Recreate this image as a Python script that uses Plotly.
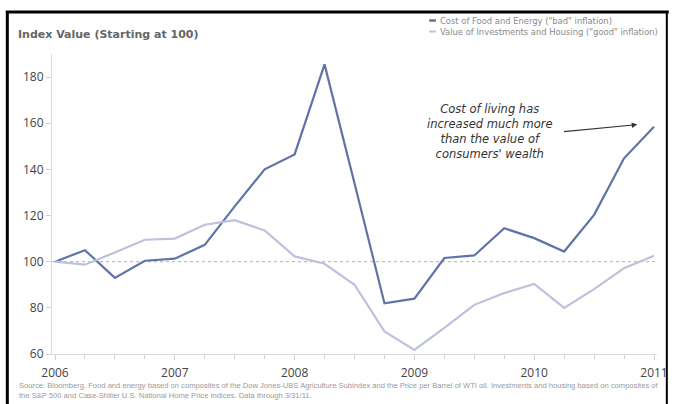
import plotly.graph_objects as go

# ---- data (quarterly, 2006 Q1 .. 2011 Q1) ----
quarters = [2006 + 0.25 * i for i in range(21)]
food_energy = [100, 105, 93, 100.4, 101.3, 107.3, 124, 140, 146.5, 185.5, 134,
               82, 84, 101.6, 102.7, 114.5, 110.2, 104.4, 120.3, 144.8, 158.5]
invest_housing = [100, 98.7, 104, 109.5, 110, 116, 118, 113.5, 102.3, 99.1, 90,
                  69.8, 61.8, 71.3, 81.3, 86.4, 90.4, 80, 88.1, 97.2, 102.6]
year_ticks = [2006, 2007, 2008, 2009, 2010, 2011]
y_ticks = [60, 80, 100, 120, 140, 160, 180]

series_names = ['Cost of Food and Energy ("bad" inflation)',
                'Value of Investments and Housing ("good" inflation)']
dark = "#5f74a6"
light = "#bcc2de"

fig = go.Figure()
fig.add_trace(go.Scatter(x=quarters, y=food_energy, mode="lines", name=series_names[0],
                         line=dict(color=dark, width=2.2)))
fig.add_trace(go.Scatter(x=quarters, y=invest_housing, mode="lines", name=series_names[1],
                         line=dict(color=light, width=2.2)))

L, R, T, B = 52, 12, 54, 50
W, H = 680, 404
pw, ph = W - L - R, H - T - B


def px(xpix):
    return (xpix - L) / pw


def py(ypix):
    return (H - B - ypix) / ph


shapes = [
    # dotted reference line at 100
    dict(type="line", xref="paper", yref="y", x0=0, x1=1, y0=100, y1=100,
         line=dict(color="#b0b0b0", width=1, dash="dot"), layer="below"),
    # frame
    dict(type="line", xref="paper", yref="paper", x0=px(5), x1=px(680), y0=py(12), y1=py(12),
         line=dict(color="#000", width=3)),
    dict(type="line", xref="paper", yref="paper", x0=px(6.5), x1=px(6.5), y0=py(11), y1=py(404),
         line=dict(color="#000", width=3)),
    dict(type="line", xref="paper", yref="paper", x0=px(678), x1=px(678), y0=py(11), y1=py(404),
         line=dict(color="#000", width=2)),
    # legend swatches
    dict(type="line", xref="paper", yref="paper", x0=px(436), x1=px(443), y0=py(20.5), y1=py(20.5),
         line=dict(color=dark, width=2.5)),
    dict(type="line", xref="paper", yref="paper", x0=px(436), x1=px(443), y0=py(31.5), y1=py(31.5),
         line=dict(color=light, width=2)),
]

annotations = [
    dict(text="<b>Index Value (Starting at 100)</b>", xref="paper", yref="paper",
         x=px(15), y=py(34), xanchor="left", yanchor="middle", showarrow=False,
         font=dict(family="DejaVu Sans", size=11, color="#666")),
    dict(text=series_names[0], xref="paper", yref="paper",
         x=px(445), y=py(20.5), xanchor="left", yanchor="middle", showarrow=False,
         font=dict(family="DejaVu Sans", size=8.4, color="#8a8a8a")),
    dict(text=series_names[1], xref="paper", yref="paper",
         x=px(445), y=py(31.5), xanchor="left", yanchor="middle", showarrow=False,
         font=dict(family="DejaVu Sans", size=8.4, color="#8a8a8a")),
    dict(text="<i>Cost of living has<br>increased much more<br>than the value of<br>consumers' wealth</i>",
         xref="x", yref="y", x=2009.623, y=156.5, showarrow=False, align="center",
         font=dict(family="DejaVu Sans", size=11.5, color="#333")),
    dict(text="", xref="x", yref="y", x=2010.86, y=159.4, ax=2010.237, ay=156.3,
         axref="x", ayref="y", showarrow=True, arrowhead=2, arrowsize=1, arrowwidth=1.1,
         arrowcolor="#333"),
    dict(text="Source: Bloomberg. Food and energy based on composites of the Dow Jones-UBS Agriculture Subindex "
              "and the Price per Barrel of WTI oil. Investments and housing based on composites of<br>"
              "the S&P 500 and Case-Shiller U.S. National Home Price Indices. Data through 3/31/11.",
         xref="paper", yref="paper", x=px(16), y=py(379), xanchor="left", yanchor="top",
         showarrow=False, align="left",
         font=dict(family="Liberation Sans", size=7.6, color="#9a9a9a")),
]

fig.update_layout(
    width=W, height=H,
    margin=dict(l=L, r=R, t=T, b=B),
    paper_bgcolor="white", plot_bgcolor="white",
    showlegend=False,
    shapes=shapes, annotations=annotations,
    xaxis=dict(range=[2005.975, 2011.025], tickvals=year_ticks,
               ticktext=[str(y) for y in year_ticks],
               showgrid=False, zeroline=False, showline=True, linecolor="#dcdcdc", linewidth=1,
               ticks="outside", ticklen=5, tickcolor="#d0d0d0", ticklabelstandoff=3,
               minor=dict(dtick=0.25, tick0=2006, ticks="outside", ticklen=4, tickcolor="#d0d0d0",
                          showgrid=False),
               tickfont=dict(family="Open Sans", size=12, color="#444")),
    yaxis=dict(range=[60, 190], tickvals=y_ticks, showgrid=False, zeroline=False,
               showline=True, linecolor="#dcdcdc", linewidth=1,
               ticks="outside", ticklen=5, tickcolor="#d0d0d0",
               tickfont=dict(family="Open Sans", size=12, color="#444")),
)

fig.write_html("out.html")
